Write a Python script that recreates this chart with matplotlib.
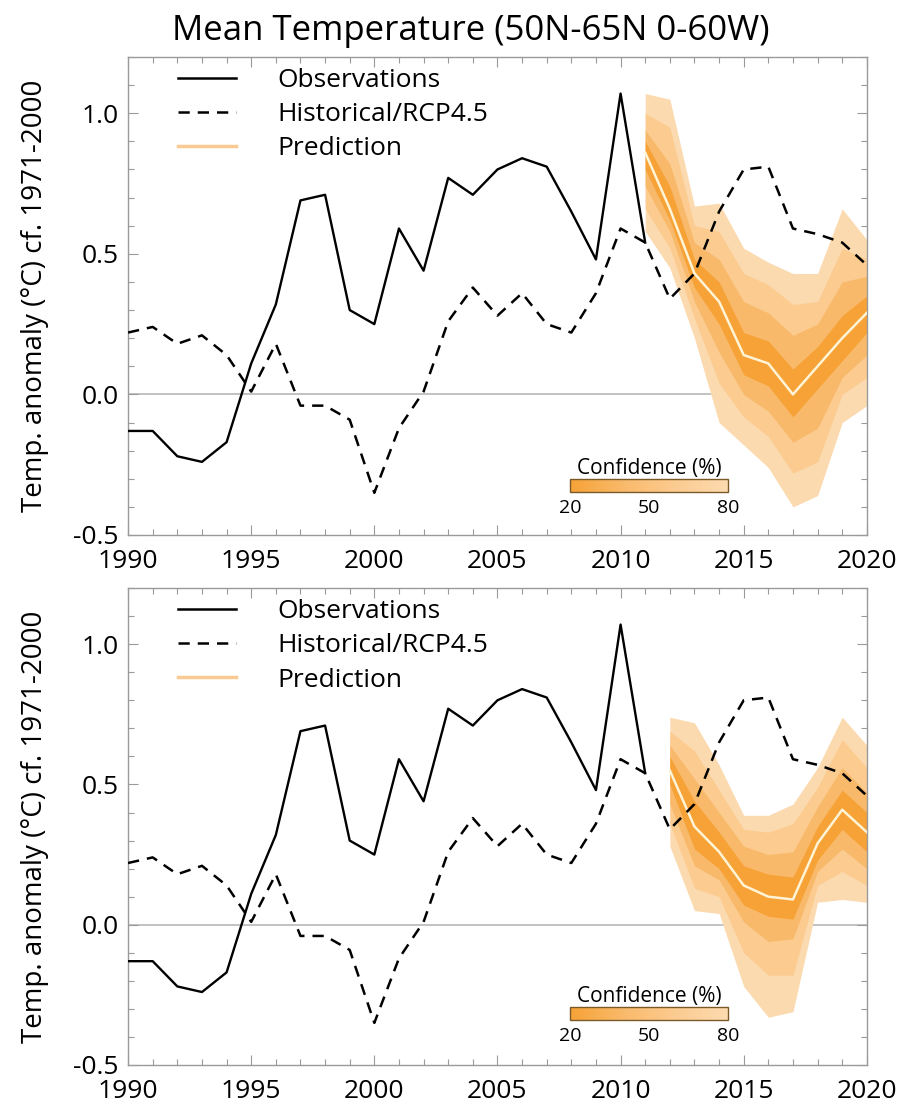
import numpy as np
import matplotlib
matplotlib.use("Agg")
import matplotlib.pyplot as plt
from matplotlib.colors import LinearSegmentedColormap, Normalize
from matplotlib.cm import ScalarMappable
from matplotlib.ticker import MultipleLocator, FormatStrFormatter
from matplotlib.lines import Line2D

plt.rcParams['font.family'] = ['Open Sans', 'DejaVu Sans']

# ---- data -------------------------------------------------------------
obs_years = list(range(1990, 2012))
obs_vals = [-0.13, -0.13, -0.22, -0.24, -0.17, 0.11, 0.32, 0.69, 0.71, 0.30,
            0.25, 0.59, 0.44, 0.77, 0.71, 0.80, 0.84, 0.81, 0.65, 0.48,
            1.07, 0.54]

hist_years = list(range(1990, 2021))
hist_vals = [0.22, 0.24, 0.18, 0.21, 0.14, 0.01, 0.18, -0.04, -0.04, -0.09,
             -0.35, -0.12, 0.01, 0.26, 0.38, 0.28, 0.36, 0.25, 0.22, 0.36,
             0.59, 0.54, 0.34, 0.43, 0.65, 0.80, 0.81, 0.59, 0.57, 0.54, 0.46]

# forecast started from 2011
pred1_years = list(range(2011, 2021))
pred1_median = [0.86, 0.66, 0.43, 0.33, 0.14, 0.11, 0.00, 0.10, 0.20, 0.29]
pred1_hi80 = [1.07, 1.05, 0.67, 0.68, 0.52, 0.47, 0.43, 0.43, 0.66, 0.55]
pred1_lo80 = [0.58, 0.45, 0.20, -0.10, -0.18, -0.26, -0.40, -0.36, -0.10, -0.04]
pred1_hi60 = [1.00, 0.95, 0.60, 0.58, 0.43, 0.39, 0.32, 0.33, 0.52, 0.48]
pred1_lo60 = [0.66, 0.52, 0.27, 0.04, -0.08, -0.15, -0.28, -0.24, 0.00, 0.06]
pred1_hi40 = [0.94, 0.82, 0.54, 0.48, 0.33, 0.29, 0.21, 0.25, 0.40, 0.42]
pred1_lo40 = [0.74, 0.58, 0.33, 0.15, 0.00, -0.06, -0.17, -0.12, 0.06, 0.14]
pred1_hi20 = [0.90, 0.74, 0.48, 0.40, 0.22, 0.19, 0.09, 0.17, 0.28, 0.35]
pred1_lo20 = [0.80, 0.62, 0.38, 0.25, 0.07, 0.03, -0.08, 0.02, 0.12, 0.22]

# forecast started from 2012
pred2_years = list(range(2012, 2021))
pred2_median = [0.55, 0.35, 0.26, 0.14, 0.10, 0.09, 0.29, 0.41, 0.33]
pred2_hi80 = [0.74, 0.72, 0.57, 0.39, 0.39, 0.43, 0.56, 0.74, 0.64]
pred2_lo80 = [0.28, 0.05, 0.04, -0.22, -0.33, -0.31, 0.08, 0.09, 0.08]
pred2_hi60 = [0.69, 0.62, 0.48, 0.34, 0.33, 0.36, 0.49, 0.66, 0.56]
pred2_lo60 = [0.36, 0.13, 0.10, -0.10, -0.18, -0.18, 0.14, 0.19, 0.14]
pred2_hi40 = [0.64, 0.52, 0.40, 0.28, 0.25, 0.26, 0.42, 0.56, 0.47]
pred2_lo40 = [0.43, 0.21, 0.16, 0.01, -0.06, -0.05, 0.19, 0.27, 0.20]
pred2_hi20 = [0.60, 0.44, 0.33, 0.21, 0.18, 0.17, 0.35, 0.48, 0.40]
pred2_lo20 = [0.50, 0.27, 0.20, 0.07, 0.03, 0.02, 0.23, 0.34, 0.26]

confidence_levels = [80, 60, 40, 20]
legend_labels = ["Observations", "Historical/RCP4.5", "Prediction"]
title_text = "Mean Temperature (50N-65N 0-60W)"
ylabel_text = "Temp. anomaly (°C) cf. 1971-2000"

# ---- styling ----------------------------------------------------------
conf_cmap = LinearSegmentedColormap.from_list(
    "conf", ["#f6a236", "#f9b96a", "#fbcb8f", "#fcdab0"])
conf_norm = Normalize(vmin=20, vmax=80)
frame_col = "#9a9a9a"

fig = plt.figure(figsize=(9.02, 11.09), dpi=100)
fig.text(471 / 902, 1 - 31 / 1109, title_text, ha="center", va="center",
         fontsize=25)

panels = [
    (pred1_years, pred1_median,
     [(pred1_lo80, pred1_hi80), (pred1_lo60, pred1_hi60),
      (pred1_lo40, pred1_hi40), (pred1_lo20, pred1_hi20)]),
    (pred2_years, pred2_median,
     [(pred2_lo80, pred2_hi80), (pred2_lo60, pred2_hi60),
      (pred2_lo40, pred2_hi40), (pred2_lo20, pred2_hi20)]),
]
axes_rects = [[0.142, 0.5176, 0.819, 0.431], [0.142, 0.0397, 0.819, 0.430]]
cbar_bottoms = [0.5564, 0.0800]

for (pyears, pmed, bands), rect, cb_bottom in zip(panels, axes_rects, cbar_bottoms):
    ax = fig.add_axes(rect)
    ax.set_xlim(1990, 2020)
    ax.set_ylim(-0.5, 1.2)

    ax.axhline(0, color="#b8b8b8", lw=1.2, zorder=1)

    for level, (lo, hi) in zip(confidence_levels, bands):
        ax.fill_between(pyears, lo, hi, color=conf_cmap(conf_norm(level)),
                        lw=0, zorder=2)
    ax.plot(pyears, pmed, color="#fff4d6", lw=1.8, zorder=4)

    ax.plot(hist_years, hist_vals, color="black", lw=1.8,
            dashes=(4.5, 3.2), zorder=5)
    ax.plot(obs_years, obs_vals, color="black", lw=1.7, zorder=6)

    for s in ax.spines.values():
        s.set_color(frame_col)
        s.set_linewidth(1.0)
    ax.xaxis.set_major_locator(MultipleLocator(5))
    ax.xaxis.set_minor_locator(MultipleLocator(1))
    ax.yaxis.set_major_locator(MultipleLocator(0.5))
    ax.yaxis.set_minor_locator(MultipleLocator(0.1))
    ax.tick_params(which="both", direction="in", top=True, right=True,
                   color=frame_col, width=0.8)
    ax.tick_params(which="major", length=7, labelsize=19)
    ax.tick_params(which="minor", length=4)
    ax.tick_params(axis="x", which="major", pad=10)
    ax.tick_params(axis="y", which="major", pad=7)
    ax.yaxis.set_major_formatter(FormatStrFormatter("%.1f"))
    ax.set_ylabel(ylabel_text, fontsize=20, labelpad=17)

    handles = [
        Line2D([], [], color="black", lw=1.8),
        Line2D([], [], color="black", lw=1.8, dashes=(4.5, 3.2)),
        Line2D([], [], color="#fbc992", lw=2.5),
    ]
    ax.legend(handles, legend_labels, loc="upper left",
              bbox_to_anchor=(0.068, 0.977), frameon=False, fontsize=19,
              handlelength=2.2, handletextpad=1.55, labelspacing=0.35,
              borderpad=0, borderaxespad=0)

    cax = fig.add_axes([570 / 902, cb_bottom, 158 / 902, 13 / 1109])
    sm = ScalarMappable(norm=conf_norm, cmap=conf_cmap)
    cb = fig.colorbar(sm, cax=cax, orientation="horizontal", ticks=[20, 50, 80])
    cb.outline.set_edgecolor("#7a5a2a")
    cb.outline.set_linewidth(1.0)
    cax.tick_params(length=0, labelsize=14, pad=5)
    cax.set_title("Confidence (%)", fontsize=15, pad=2)

fig.savefig("out.png", dpi=100)
